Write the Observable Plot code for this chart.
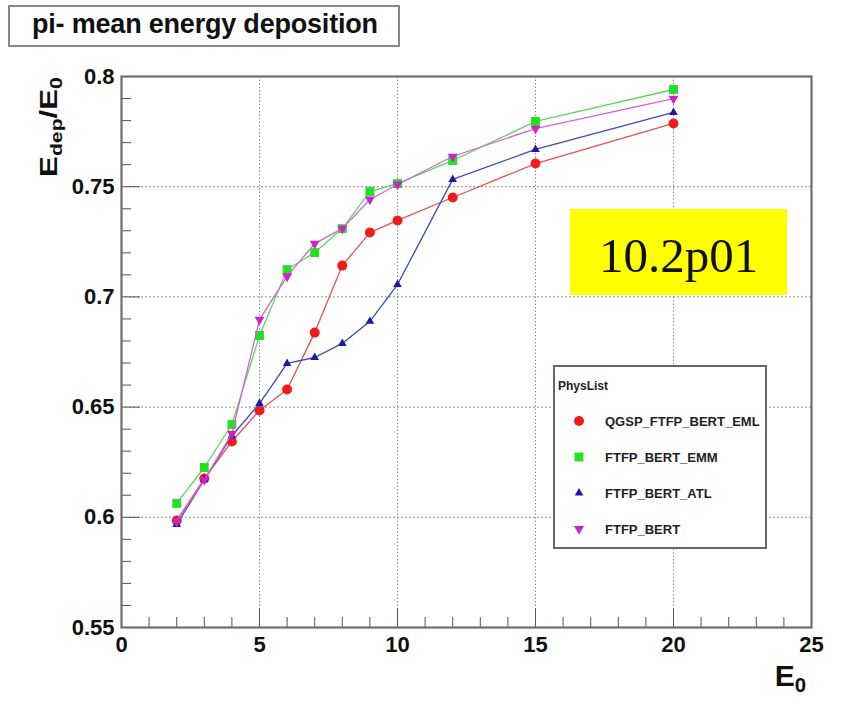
<!DOCTYPE html>
<html>
<head>
<meta charset="utf-8">
<script src="https://cdn.jsdelivr.net/npm/d3@7"></script>
<script src="https://cdn.jsdelivr.net/npm/@observablehq/plot@0.6"></script>
<style>
  html, body { margin: 0; padding: 0; background: #fff; }
  #wrap { position: relative; width: 844px; height: 723px; overflow: hidden; font-family: "Liberation Sans", Arial, sans-serif; }
  #chart { position: absolute; left: 0; top: 0; }
  .box { position: absolute; box-sizing: border-box; background: #fff; }
  #title { left: 8px; top: 5px; width: 392px; height: 42px; border: 2px solid #888; padding-left: 22px;
           font-size: 27px; font-weight: bold; line-height: 34px; color: #111; white-space: nowrap; letter-spacing: -0.2px; }
  #tag { left: 570px; top: 209px; width: 217px; height: 86px; background: #ffff00; text-align: center;
         font-family: "Liberation Serif", "DejaVu Serif", serif; font-size: 49px; line-height: 86px; color: #111; }
  #tag span { position: relative; top: 4px; }
  #legend { left: 553px; top: 365px; width: 214px; height: 184px; border: 2px solid #666; }
  .ltxt { position: absolute; font-weight: bold; color: #222; white-space: nowrap; transform: translateY(-50%); }
  .lsym { position: absolute; }
  #ylab { position: absolute; left: 51px; top: 127px; transform: translate(-50%, -50%) rotate(-90deg) scale(1.3, 1);
          font-size: 24px; font-weight: bold; color: #111; white-space: nowrap; line-height: 1; }
  #ylab sub, #xlab sub { font-size: 0.68em; vertical-align: -0.3em; }
  #xlab { position: absolute; right: 38px; top: 661px; font-size: 30px; font-weight: bold; color: #111; white-space: nowrap; line-height: 1; }
</style>
</head>
<body>
<div id="wrap">
  <div id="chart"></div>
  <div id="title" class="box">pi- mean energy deposition</div>
  <div id="tag" class="box"><span>10.2p01</span></div>
  <div id="legend" class="box"></div>
  <div id="ylab">E<sub>dep</sub>/E<sub>0</sub></div>
  <div id="xlab">E<sub>0</sub></div>
</div>
<script>
// ---- data ----
const energies = [2, 3, 4, 5, 6, 7, 8, 9, 10, 12, 15, 20];
const qgspFtfpBertEml = [0.5985, 0.6176, 0.6344, 0.6485, 0.6580, 0.6838, 0.7142, 0.7292, 0.7347, 0.7451, 0.7605, 0.7787];
const ftfpBertEmm     = [0.6063, 0.6226, 0.6421, 0.6825, 0.7124, 0.7201, 0.7310, 0.7478, 0.7514, 0.7619, 0.7796, 0.7941];
const ftfpBertAtl     = [0.5967, 0.6170, 0.6370, 0.6516, 0.6698, 0.6725, 0.6789, 0.6889, 0.7056, 0.7533, 0.7669, 0.7837];
const ftfpBert        = [0.5980, 0.6170, 0.6380, 0.6897, 0.7093, 0.7242, 0.7310, 0.7442, 0.7510, 0.7637, 0.7764, 0.7900];
const seriesNames = ["QGSP_FTFP_BERT_EML", "FTFP_BERT_EMM", "FTFP_BERT_ATL", "FTFP_BERT"];
const xTickLabels = [0, 5, 10, 15, 20, 25];
const yTickLabels = [0.55, 0.6, 0.65, 0.7, 0.75, 0.8];
const xGridTicks = [5, 10, 15, 20];
const yGridTicks = [0.6, 0.65, 0.7, 0.75];
const legendTitle = "PhysList";

// ---- styles ----
const seriesStyle = [
  {marker: "#ee1c1c", line: "#e85050", symbol: "circle", r: 5, rotate: 0},
  {marker: "#22e022", line: "#5cd85c", symbol: "square", r: 5, rotate: 0},
  {marker: "#1a1aa6", line: "#3a4ab8", symbol: "triangle", r: 3.2, rotate: 0},
  {marker: "#cc22cc", line: "#d860d8", symbol: "triangle", r: 3.7, rotate: 180}
];
const seriesValues = [qgspFtfpBertEml, ftfpBertEmm, ftfpBertAtl, ftfpBert];

const W = 844, H = 723, mL = 121, mR = 33, mT = 76, mB = 96;
const fw = W - mL - mR, fh = H - mT - mB;

const xMinor = d3.range(0, 26).filter(v => v % 5 !== 0);
const yMinor = d3.range(55, 81).filter(v => v % 5 !== 0).map(v => v / 100);

const marks = [
  Plot.gridX(xGridTicks, {stroke: "#8c8c8c", strokeOpacity: 1, strokeWidth: 1, strokeDasharray: "1.5,2"}),
  Plot.gridY(yGridTicks, {stroke: "#8c8c8c", strokeOpacity: 1, strokeWidth: 1, strokeDasharray: "2,2"}),
  Plot.tickX(xMinor, {x: d => d, insetTop: fh - 10, stroke: "#555", strokeWidth: 1}),
  Plot.tickX(xTickLabels, {x: d => d, insetTop: fh - 19, stroke: "#555", strokeWidth: 1}),
  Plot.tickY(yMinor, {y: d => d, insetRight: fw - 10, stroke: "#555", strokeWidth: 1}),
  Plot.tickY(yTickLabels, {y: d => d, insetRight: fw - 19, stroke: "#555", strokeWidth: 1}),
  Plot.axisX(xTickLabels, {tickSize: 0, tickPadding: 9, fontSize: 22, label: null, fill: "#111"}),
  Plot.axisY(yTickLabels, {tickSize: 0, tickPadding: 7, fontSize: 22, label: null, fill: "#111", tickFormat: d => String(d)}),
  Plot.frame({stroke: "#6e6e6e", strokeWidth: 2.2})
];

seriesNames.forEach((name, k) => {
  const rows = energies.map((e, i) => ({E: e, v: seriesValues[k][i], s: name}));
  const st = seriesStyle[k];
  marks.push(Plot.line(rows, {x: "E", y: "v", stroke: st.line, strokeWidth: 1.3}));
  marks.push(Plot.dot(rows, {x: "E", y: "v", symbol: st.symbol, r: st.r, fill: st.marker, stroke: "none", rotate: st.rotate}));
});

const plot = Plot.plot({
  width: W, height: H,
  marginLeft: mL, marginRight: mR, marginTop: mT, marginBottom: mB,
  style: {fontFamily: '"Liberation Sans", Arial, sans-serif', fontWeight: "bold", background: "transparent", overflow: "visible"},
  x: {domain: [0, 25]},
  y: {domain: [0.55, 0.8]},
  marks
});
document.getElementById("chart").appendChild(plot);

// ---- legend (HTML) ----
const legend = document.getElementById("legend");
const lx0 = 553, ly0 = 365;
const t = document.createElement("div");
t.className = "ltxt";
t.style.left = (558 - lx0 - 2) + "px";
t.style.top = (386 - ly0 - 2) + "px";
t.style.fontSize = "12px";
t.textContent = legendTitle;
legend.appendChild(t);
const rowY = [421, 457, 493, 529];
const symMap = {circle: d3.symbolCircle, square: d3.symbolSquare, triangle: d3.symbolTriangle};
seriesNames.forEach((name, k) => {
  const st = seriesStyle[k];
  const svg = d3.create("svg").attr("width", 20).attr("height", 20).attr("class", "lsym")
    .style("left", (579 - 10 - lx0 - 2) + "px").style("top", (rowY[k] - 10 - ly0 - 2) + "px");
  svg.append("path")
    .attr("d", d3.symbol(symMap[st.symbol], Math.PI * st.r * st.r)())
    .attr("transform", `translate(10,10) rotate(${st.rotate})`)
    .attr("fill", st.marker);
  legend.appendChild(svg.node());
  const tx = document.createElement("div");
  tx.className = "ltxt";
  tx.style.left = (605 - lx0 - 2) + "px";
  tx.style.top = (rowY[k] - ly0 - 2) + "px";
  tx.style.fontSize = "13px";
  tx.textContent = name;
  legend.appendChild(tx);
});
</script>
</body>
</html>
